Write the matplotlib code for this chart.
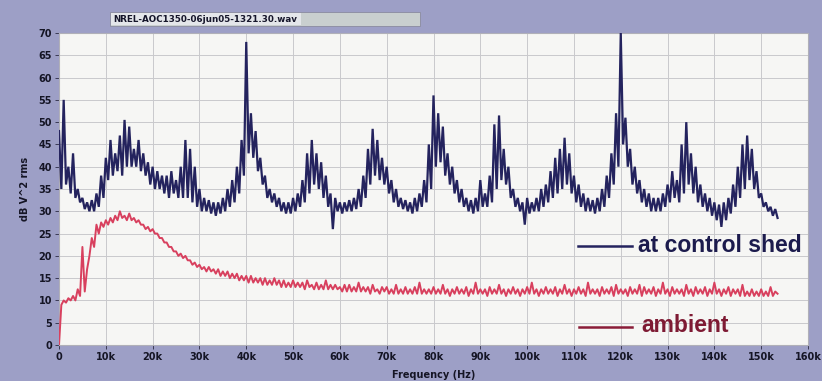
import numpy as np
import matplotlib.pyplot as plt
from matplotlib.patches import Rectangle

# spectrum samples, dB V^2 rms
# *_a = value at each whole kHz, *_b = value half a kHz later
blue_a = [48, 55, 40, 43, 35, 33, 32, 32.5, 34, 38,
          42, 46, 43, 47, 50.5, 49, 44, 46, 43, 41,
          40, 39, 38, 38, 39, 37, 40, 46, 44, 40,
          35, 33, 32.5, 32, 32, 33, 35, 37, 40, 46,
          68, 52, 48, 42, 38, 35, 34, 33, 32, 32,
          33, 34, 37, 43, 46, 43, 41, 38, 34, 33,
          32, 32, 32.5, 33, 35, 38, 44, 48.5, 46, 42,
          40, 37, 35, 33, 32.5, 32, 33, 34, 37, 45,
          56, 52, 49, 43, 40, 37, 35, 33, 32.5, 33,
          37, 34, 38, 49.5, 51.5, 44, 40, 35, 33, 32,
          33, 32, 33, 35, 36, 39, 42, 44, 46.5, 43,
          38, 36, 34, 33, 32.5, 33, 35, 38, 43, 52,
          70, 51, 44, 40, 37, 35, 34, 33, 33, 34,
          36, 39, 37, 45, 50, 43, 40, 36, 34, 33,
          32, 31.5, 32, 33, 36, 40, 45, 47, 44, 39,
          34, 32, 31, 30.5]
blue_b = [35, 36, 34, 33, 32, 30.5, 30, 30, 31, 33,
          37, 38, 39, 38, 40, 40, 40, 39, 38, 36,
          35, 35, 34, 33, 34, 33, 33, 33, 32, 31,
          30, 30, 29.5, 29, 29.5, 30, 31, 32, 34, 38,
          43, 42, 39, 36, 33, 32, 31, 30, 29.5, 29.5,
          30, 31, 32, 34, 36, 35, 33, 31, 26, 30,
          29.5, 30, 30, 30.5, 31, 33, 36, 38, 37, 36,
          34, 32, 31, 30.5, 30, 29.5, 30, 31, 32, 35,
          40, 41, 38, 36, 34, 32, 31, 30, 29.5, 30,
          31, 31, 32, 35, 37, 36, 33, 31, 30, 27,
          29.5, 30, 30, 31, 32, 33, 34, 35, 36, 34,
          32, 31, 30, 30, 29.5, 30, 31, 33, 36, 40,
          45, 40, 36, 34, 32, 31, 30, 30, 30, 31,
          32, 33, 32, 34, 36, 34, 32, 31, 30, 29,
          28, 26.5, 28, 29.5, 31, 33, 35, 37, 35, 33,
          31, 30, 29, 28.5]

red_a = [0, 10, 10.5, 11, 12.5, 22, 17, 24, 27, 27.5,
         28, 28.5, 29, 30, 29, 29.5, 28.5, 28, 27, 26.5,
         26, 25, 24, 23, 22, 21, 20.5, 20, 19, 18.5,
         18, 17.5, 17.5, 17, 17, 16.5, 16.5, 16, 16, 15.5,
         15.5, 15.5, 15, 15, 15, 14.5, 15, 14.5, 14.5, 14,
         14.5, 14, 14, 14.5, 13.5, 14, 13.5, 14.5, 13.5, 13.5,
         13, 13.5, 13.5, 13, 14, 13, 13, 13.5, 12.5, 13,
         13, 12.5, 13.5, 12.5, 13, 12.5, 13, 14, 12.5, 12.5,
         13, 12.5, 13.5, 12.5, 12.5, 13, 12.5, 13, 12.5, 14,
         12.5, 12.5, 13, 12.5, 13.5, 12.5, 12.5, 13, 12.5, 12.5,
         13, 14, 12.5, 12.5, 13, 12.5, 13, 12.5, 13.5, 12.5,
         12.5, 13, 12.5, 14, 12.5, 12.5, 13, 12.5, 13, 13.5,
         12.5, 12.5, 13, 12.5, 13.5, 13, 12.5, 13, 12.5, 14,
         12.5, 13, 12.5, 12.5, 13.5, 12.5, 13, 12.5, 13, 12.5,
         14, 12.5, 12.5, 13, 12.5, 12.5, 13.5, 12, 12.5, 12,
         12.5, 12, 13, 12]
red_b = [9, 9.5, 10, 10, 11, 12, 20, 22, 25, 26.5,
         27, 27.5, 28, 28.5, 28, 28, 27.5, 27, 26, 25.5,
         25, 24, 23, 22, 21, 20, 19.5, 19, 18, 17.5,
         17, 16.5, 16.5, 16, 15.5, 15.5, 15, 15, 14.5, 14.5,
         14, 14, 14, 13.5, 13.5, 13.5, 13.5, 13, 13, 13,
         13, 13, 12.5, 13, 12.5, 12.5, 12.5, 12.5, 12.5, 12.5,
         12, 12, 12, 12, 12, 12, 11.5, 12, 11.5, 12,
         11.5, 11.5, 11.5, 11.5, 11.5, 11.5, 11.5, 11.5, 11.5, 11.5,
         11.5, 11.5, 11.5, 11, 11.5, 11.5, 11.5, 11, 11.5, 11.5,
         11.5, 11, 11.5, 11.5, 11.5, 11, 11.5, 11.5, 11, 11.5,
         11.5, 11.5, 11, 11.5, 11.5, 11.5, 11, 11.5, 11.5, 11,
         11.5, 11.5, 11, 11.5, 11.5, 11, 11.5, 11.5, 11, 11.5,
         11.5, 11, 11.5, 11.5, 11, 11.5, 11.5, 11, 11.5, 11.5,
         11, 11.5, 11.5, 11, 11.5, 11, 11.5, 11.5, 11, 11.5,
         11.5, 11, 11.5, 11, 11.5, 11, 11, 11, 11, 11,
         11, 11, 11, 11.5]

x_ticks = np.arange(0, 160001, 10000)
x_labels = ['0'] + [f'{k}k' for k in range(10, 161, 10)]
y_ticks = np.arange(0, 71, 5)


def interleave(a, b):
    f = np.arange(len(a)) * 1000.0
    ff = np.empty(2 * len(a))
    vv = np.empty(2 * len(a))
    ff[0::2], ff[1::2] = f, f + 500
    vv[0::2], vv[1::2] = a, b
    return ff, vv


fb, vb = interleave(blue_a, blue_b)
fr, vr = interleave(red_a, red_b)

frame = '#9d9fc6'
fig = plt.figure(figsize=(8.22, 3.81), dpi=100, facecolor=frame)

# title tab of the analyser window
fig.patches.append(Rectangle((110 / 822, 1 - 26 / 381), 310 / 822, 14 / 381,
                             transform=fig.transFigure, facecolor='#c9cfcf',
                             edgecolor='#8a8aa0', lw=0.6))
fig.patches.append(Rectangle((111 / 822, 1 - 25 / 381), 190 / 822, 12 / 381,
                             transform=fig.transFigure, facecolor='#e4e6ea',
                             edgecolor='none'))
fig.text(113 / 822, 1 - 19 / 381, 'NREL-AOC1350-06jun05-1321.30.wav',
         fontsize=6.3, fontweight='bold', color='#15152a', va='center',
         family='DejaVu Sans')

ax = fig.add_axes([59 / 822, 1 - 345 / 381, 749 / 822, 312 / 381])
ax.set_facecolor('#f6f6f4')
ax.plot(fb, vb, color='#24235e', lw=1.6, zorder=3, solid_joinstyle='miter')
ax.plot(fr, vr, color='#d8405e', lw=1.4, zorder=3)

ax.set_xlim(0, 160000)
ax.set_ylim(0, 70)
ax.set_xticks(x_ticks)
ax.set_xticklabels(x_labels)
ax.set_yticks(y_ticks)
ax.grid(True, color='#c9c9cc', lw=0.7)
ax.set_axisbelow(True)
for s in ax.spines.values():
    s.set_color('#b0b0b8')
    s.set_linewidth(0.8)
ax.tick_params(axis='both', labelsize=7, colors='#3a3a55', length=3, width=0.7,
               labelcolor='#151525', pad=2)
for lab in ax.get_xticklabels() + ax.get_yticklabels():
    lab.set_fontweight('bold')
ax.set_ylabel('dB V^2 rms', fontsize=7, fontweight='bold', color='#151525',
              labelpad=6)
ax.set_xlabel('Frequency (Hz)', fontsize=7, fontweight='bold', color='#151525',
              labelpad=6)

# hand-drawn style legend
ax.plot([110800, 122400], [22.1, 22.1], color='#24235e', lw=1.8, zorder=4)
ax.text(123600, 22.3, 'at control shed', fontsize=16.5, fontweight='bold',
        color='#1c1b4d', va='center', family='Liberation Sans', zorder=4)
ax.plot([111000, 122400], [4.0, 4.0], color='#8a1c38', lw=1.8, zorder=4)
ax.text(124500, 4.4, 'ambient', fontsize=16.5, fontweight='bold',
        color='#7e1a33', va='center', family='Liberation Sans', zorder=4)

fig.savefig('out.png', dpi=100, facecolor=frame)
